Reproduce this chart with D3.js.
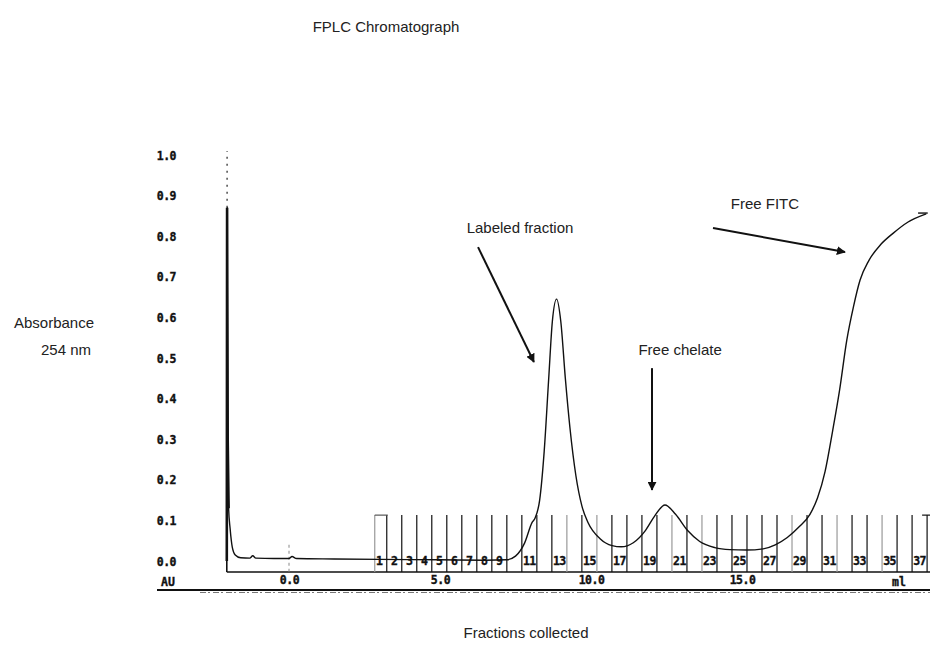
<!DOCTYPE html>
<html><head><meta charset="utf-8">
<script src="https://cdn.jsdelivr.net/npm/d3@7"></script>
<style>
body{margin:0;background:#fff}
svg{display:block}
.lbl{font-family:"Liberation Sans",Arial,sans-serif;font-size:15px;fill:#222}
.tick text,.mono{font-family:"DejaVu Sans Mono","Liberation Mono",monospace;font-weight:bold;font-size:11.5px;fill:#111;stroke:#111;stroke-width:0.35px}
</style></head>
<body>
<script>
// ---- data ----
const yTicks = [0.0,0.1,0.2,0.3,0.4,0.5,0.6,0.7,0.8,0.9,1.0];
const mlTicks = [0,5,10,15];
const curveMl = [-2.06,-2.05,-2.03,-2.00,-1.95,-1.88,-1.78,-1.6,-1.3,-1.2,-1.1,-0.5,0.0,0.1,0.25,1.5,3.0,5.0,6.5,7.2,7.5,7.8,8.05,8.15,8.3,8.45,8.6,8.72,8.86,9.0,9.15,9.3,9.5,9.7,9.9,10.3,10.7,11.0,11.4,11.8,12.1,12.45,12.8,13.2,13.6,14.1,14.6,15.15,15.7,16.1,16.5,16.9,17.25,17.5,17.75,18.0,18.23,18.47,18.69,18.91,19.2,19.6,20.0,20.5,21.1];
const curveAU = [0.0,0.87,0.30,0.13,0.08,0.035,0.015,0.008,0.007,0.013,0.007,0.006,0.006,0.011,0.006,0.005,0.004,0.003,0.002,0.003,0.012,0.044,0.095,0.106,0.15,0.27,0.45,0.59,0.645,0.59,0.45,0.33,0.21,0.135,0.095,0.055,0.038,0.035,0.045,0.075,0.11,0.138,0.115,0.075,0.048,0.033,0.028,0.027,0.03,0.04,0.058,0.085,0.115,0.155,0.22,0.32,0.42,0.544,0.626,0.692,0.74,0.78,0.807,0.835,0.855];
const capMl = [20.83,21.15];
const capAU = [0.857,0.857];
const fractionNumbers = d3.range(1,38);
const fractionLabels = [1,2,3,4,5,6,7,8,9,11,13,15,17,19,21,23,25,27,29,31,33,35,37];
const fractionStartMl = 2.74;
const fractionVolMl = 0.497;
const fractionMarkAU = 0.113;
const greyFractions = [0,13,15,20,22,28,31,34];
const annotations = [
  {text:"Labeled fraction", tx:7.65, ty:0.82, ax1:6.26, ay1:0.773, ax2:8.11, ay2:0.49},
  {text:"Free chelate", tx:12.95, ty:0.52, ax1:12.02, ay1:0.475, ax2:12.02, ay2:0.175},
  {text:"Free FITC", tx:15.76, ty:0.879, ax1:14.04, ay1:0.82, ax2:18.41, ay2:0.761}
];

const W=930,H=652;
const svg=d3.select("body").append("svg").attr("width",W).attr("height",H);
const defs=svg.append("defs");
defs.append("marker").attr("id","ah").attr("viewBox","0 0 10 10").attr("refX",9).attr("refY",5)
  .attr("markerWidth",4.5).attr("markerHeight",4.5).attr("orient","auto")
  .append("path").attr("d","M0,0L10,5L0,10Z").attr("fill","#111");

const x=d3.scaleLinear().domain([0,15]).range([289,742]);
const y=d3.scaleLinear().domain([0,1]).range([561,155]);
const boxBottom=572;

// title and axis titles
svg.append("text").attr("class","lbl").attr("x",386).attr("y",32).attr("text-anchor","middle").text("FPLC Chromatograph");
svg.append("text").attr("class","lbl").attr("x",54).attr("y",328).attr("text-anchor","middle").text("Absorbance");
svg.append("text").attr("class","lbl").attr("x",66).attr("y",355).attr("text-anchor","middle").text("254 nm");
svg.append("text").attr("class","lbl").attr("x",526).attr("y",638).attr("text-anchor","middle").text("Fractions collected");

// y axis labels
const ya=svg.append("g").attr("transform","translate(178,0)")
  .call(d3.axisLeft(y).tickValues(yTicks).tickFormat(d3.format(".1f")).tickSize(0).tickPadding(2));
ya.select(".domain").remove();
ya.selectAll(".tick text").attr("dy","0.35em").attr("letter-spacing","-0.5");

// frame
svg.append("line").attr("x1",x(-2.06)).attr("x2",W).attr("y1",boxBottom).attr("y2",boxBottom).attr("stroke","#111").attr("stroke-width",1.3);
svg.append("line").attr("x1",x(-2.06)).attr("x2",x(-2.06)).attr("y1",y(0)).attr("y2",boxBottom).attr("stroke","#111").attr("stroke-width",1.6);
// dotted top of spike
svg.append("line").attr("x1",x(-2.05)).attr("x2",x(-2.05)).attr("y1",y(0.87)).attr("y2",y(1.01)).attr("stroke","#333").attr("stroke-width",1.3).attr("stroke-dasharray","2,5");
// 0.0 ml marker
svg.append("line").attr("x1",x(0)).attr("x2",x(0)).attr("y1",y(0.04)).attr("y2",boxBottom).attr("stroke","#888").attr("stroke-width",1).attr("stroke-dasharray","3,3");

// bottom ml axis
const xa=svg.append("g").attr("transform",`translate(0,${boxBottom})`)
  .call(d3.axisBottom(x).tickValues(mlTicks).tickFormat(d3.format(".1f")).tickSize(0).tickPadding(4));
xa.select(".domain").remove();
xa.selectAll(".tick text").attr("letter-spacing","-0.5");
svg.append("text").attr("class","mono").attr("x",x(20.2)).attr("y",boxBottom+14).attr("text-anchor","middle").text("ml");
svg.append("text").attr("class","mono").attr("x",168).attr("y",boxBottom+14).attr("text-anchor","middle").text("AU");
svg.append("line").attr("x1",157).attr("x2",W).attr("y1",boxBottom+18).attr("y2",boxBottom+18).attr("stroke","#111").attr("stroke-width",2);
svg.append("line").attr("x1",200).attr("x2",W).attr("y1",boxBottom+20.5).attr("y2",boxBottom+20.5).attr("stroke","#777").attr("stroke-width",1).attr("stroke-dasharray","6,2,2,3");

// fraction markers
const bx=k=>x(fractionStartMl+fractionVolMl*k);
const fg=svg.append("g");
const bounds=d3.range(0,fractionNumbers.length+1);
fg.selectAll("line.fr").data(bounds).join("line")
  .attr("x1",k=>bx(k)+(k===0?3:0)).attr("x2",k=>bx(k)+(k===0?3:0))
  .attr("y1",y(fractionMarkAU)).attr("y2",boxBottom)
  .attr("stroke",k=>greyFractions.includes(k)?"#999":"#111").attr("stroke-width",1.2);
fg.append("line").attr("x1",bx(0)+3).attr("x2",bx(1)+1).attr("y1",y(fractionMarkAU)).attr("y2",y(fractionMarkAU)).attr("stroke","#555").attr("stroke-width",1.2);
fg.append("line").attr("x1",bx(37)-5).attr("x2",W).attr("y1",y(fractionMarkAU)).attr("y2",y(fractionMarkAU)).attr("stroke","#111").attr("stroke-width",1.2);
fg.selectAll("text").data(fractionLabels).join("text").attr("class","mono")
  .attr("x",n=>bx(n-0.5)).attr("y",y(0)+4).attr("text-anchor","middle").attr("letter-spacing","-0.5")
  .text(n=>n);

// curve
const pts=curveMl.map((m,i)=>[m,curveAU[i]]);
const line=d3.line().x(d=>x(d[0])).y(d=>y(d[1])).curve(d3.curveMonotoneX);
svg.append("path").attr("d",line(pts)).attr("fill","none").attr("stroke","#111").attr("stroke-width",1.4);
svg.append("path").attr("d",d3.line().x(d=>x(d[0])).y(d=>y(d[1]))(pts.slice(0,4))).attr("fill","none").attr("stroke","#111").attr("stroke-width",2.6);
svg.append("path").attr("d",d3.line().x(d=>x(d[0])).y(d=>y(d[1]))(capMl.map((m,i)=>[m,capAU[i]]))).attr("fill","none").attr("stroke","#111").attr("stroke-width",1.4);

// annotations
const ag=svg.append("g");
annotations.forEach(a=>{
  ag.append("text").attr("class","lbl").attr("x",x(a.tx)).attr("y",y(a.ty)).attr("dy","0.35em").attr("text-anchor","middle").text(a.text);
  ag.append("line").attr("x1",x(a.ax1)).attr("y1",y(a.ay1)).attr("x2",x(a.ax2)).attr("y2",y(a.ay2))
    .attr("stroke","#111").attr("stroke-width",2).attr("marker-end","url(#ah)");
});
</script>
</body></html>
